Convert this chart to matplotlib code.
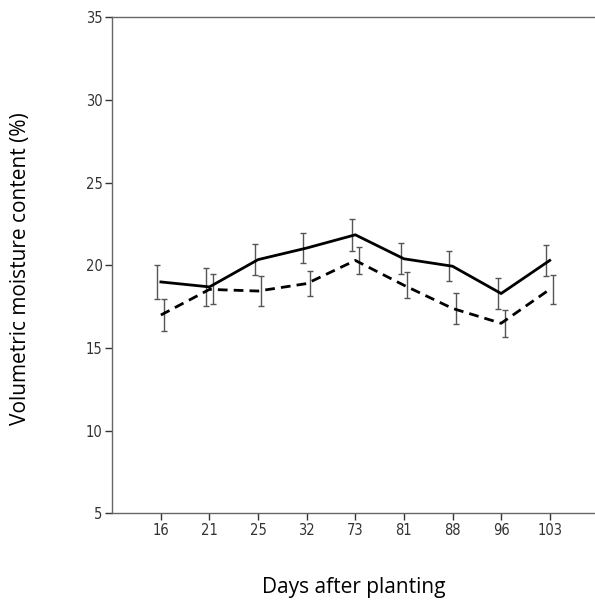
import matplotlib
matplotlib.use("Agg")
import matplotlib.pyplot as plt
from matplotlib import font_manager
import numpy as np

# sampling days after planting
days = ["16", "21", "25", "32", "73", "81", "88", "96", "103"]

# volumetric moisture content (%) and error bar half-widths
solid_mean = [19.0, 18.7, 20.35, 21.05, 21.85, 20.4, 19.95, 18.3, 20.3]
solid_err = [1.03, 1.13, 0.95, 0.9, 0.97, 0.95, 0.91, 0.96, 0.96]
dashed_mean = [17.0, 18.55, 18.45, 18.9, 20.3, 18.8, 17.4, 16.5, 18.55]
dashed_err = [0.94, 0.91, 0.91, 0.78, 0.79, 0.79, 0.93, 0.81, 0.89]

# prefer a narrow face for the tick numbers when one is available
names = {f.name for f in font_manager.fontManager.ttflist}
narrow = [n for n in ["Liberation Sans Narrow", "DejaVu Sans Condensed"] if n in names]
tick_font = narrow + ["DejaVu Sans"]
label_font = ["Open Sans", "DejaVu Sans"]

fig = plt.figure(figsize=(5.95, 6.01), dpi=100)
ax = fig.add_axes([0.1887, 0.1456, 0.8169, 0.8256])

x = np.arange(1, len(days) + 1)
dodge = 0.07

ax.errorbar(x - dodge, solid_mean, yerr=solid_err, fmt="none",
            ecolor="#555555", elinewidth=1.0, capsize=2.0, capthick=1.0)
ax.errorbar(x + dodge, dashed_mean, yerr=dashed_err, fmt="none",
            ecolor="#555555", elinewidth=1.0, capsize=2.0, capthick=1.0)
ax.plot(x, solid_mean, color="black", lw=2.0, solid_joinstyle="miter")
ax.plot(x, dashed_mean, color="black", lw=2.0, dashes=(3.5, 2.2))

ax.set_xlim(0, 10)
ax.set_ylim(5, 35)
ax.set_xticks(x)
ax.set_xticklabels(days)
ax.set_yticks([5, 10, 15, 20, 25, 30, 35])

for side in ["left", "bottom", "top"]:
    ax.spines[side].set_color("#666666")
    ax.spines[side].set_linewidth(1.0)
ax.spines["right"].set_visible(False)

ax.tick_params(axis="both", direction="out", length=5, width=1.0,
               color="#333333", labelsize=10.5, pad=2)
for lab in ax.get_xticklabels() + ax.get_yticklabels():
    lab.set_family(tick_font)
    lab.set_stretch("condensed")
    lab.set_color("#333333")

fig.text(0.595, 0.005, "Days after planting", family=label_font,
         fontsize=15, ha="center", va="bottom")
fig.text(0.034, 0.553, "Volumetric moisture content (%)", family=label_font,
         fontsize=15, ha="center", va="center", rotation=90)

fig.savefig("out.png", dpi=100)
